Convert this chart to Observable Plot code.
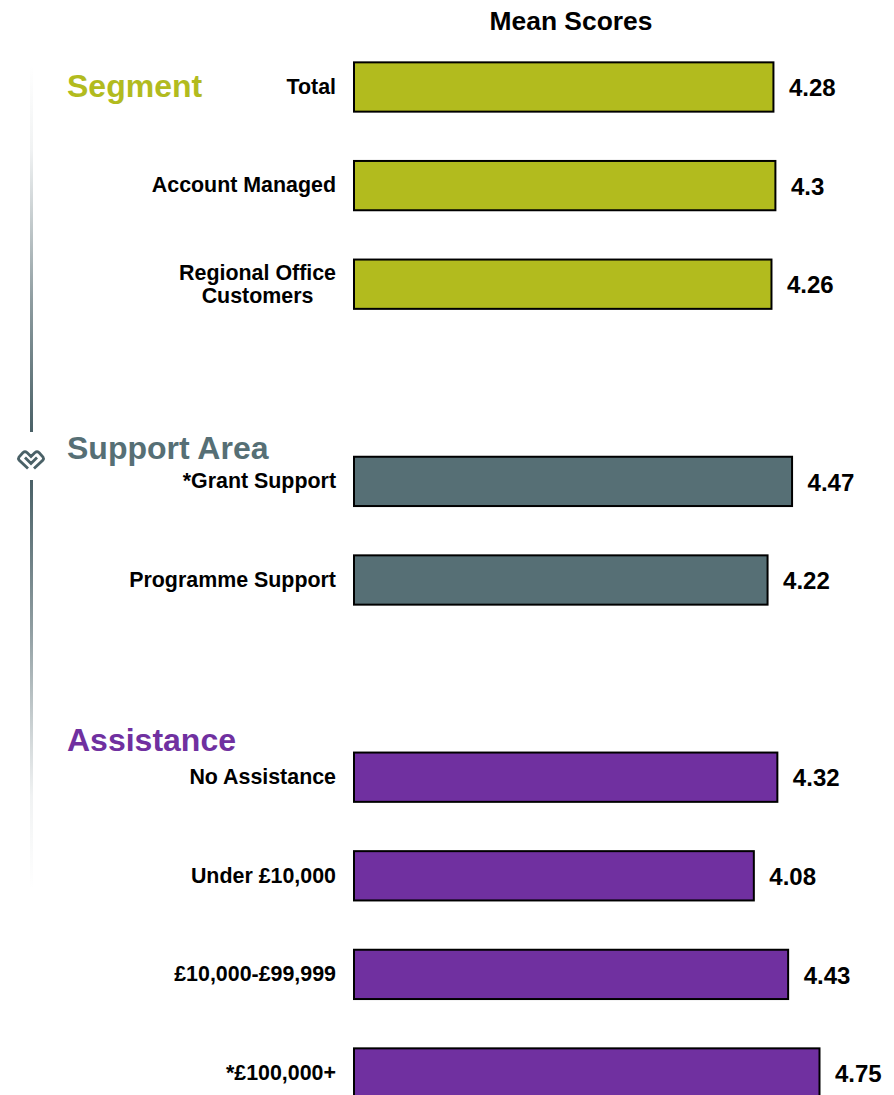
<!DOCTYPE html>
<html><head><meta charset="utf-8">
<script src="https://cdn.jsdelivr.net/npm/d3@7"></script>
<script src="https://cdn.jsdelivr.net/npm/@observablehq/plot@0.6"></script>
<style>
html,body{margin:0;padding:0;background:#fff;overflow:hidden}
#title{height:42px;width:894px;box-sizing:border-box;padding-left:248px;text-align:center;font:bold 26.4px/43px "Liberation Sans",Arial,sans-serif;color:#000}
svg{display:block}
</style></head><body>
<div id="title">Mean Scores</div>
<div id="chart"></div>
<script>
const categories = ["Total","Account Managed","Regional Office Customers","*Grant Support","Programme Support","No Assistance","Under £10,000","£10,000-£99,999","*£100,000+"];
const scores     = [4.28,4.3,4.26,4.47,4.22,4.32,4.08,4.43,4.75];
const groups     = ["Segment","Segment","Segment","Support Area","Support Area","Assistance","Assistance","Assistance","Assistance"];
const groupNames = ["Segment","Support Area","Assistance"];
const groupColors= ["#b2bb1e","#566f75","#7030a0"];
const slots      = ["Total","Account Managed","Regional Office Customers","gap1","*Grant Support","Programme Support","gap2","No Assistance","Under £10,000","£10,000-£99,999","*£100,000+"];
const headingRows= ["Total","*Grant Support","No Assistance"];
const headingLift= [1,33,37];

const rows = categories.map((c,i)=>({category:c,score:scores[i],group:groups[i]}));
const font = '"Liberation Sans",Arial,sans-serif';
const singleLine = rows.filter(d=>d.category!=="Regional Office Customers");
const labelStyle = {fontSize:21.4,fontWeight:"bold",fill:"#000"};

const chart = Plot.plot({
  width:894, height:1053, marginLeft:0, marginRight:0, marginTop:0, marginBottom:0,
  style:{fontFamily:font, background:"#fff"},
  x:{domain:[0,5], range:[354,844], axis:null},
  y:{domain:slots, range:[-28.95,1104.95], padding:0.5, axis:null, round:false},
  color:{domain:groupNames, range:groupColors},
  marks:[
    Plot.barX(rows,{x:"score",y:"category",fill:"group",stroke:"#000",strokeWidth:2}),
    Plot.text(rows,{x:"score",y:"category",text:d=>String(d.score),textAnchor:"start",dx:15,dy:1,fontSize:24,fontWeight:"bold",fill:"#000"}),
    Plot.text(singleLine,{x:0,y:"category",text:"category",textAnchor:"end",dx:-18.5,dy:-0.5,...labelStyle}),
    Plot.text(["Regional Office"],{x:0,y:()=>"Regional Office Customers",text:d=>d,textAnchor:"end",dx:-18.5,dy:-12,...labelStyle}),
    Plot.text(["Customers"],{x:0,y:()=>"Regional Office Customers",text:d=>d,textAnchor:"middle",dx:-97,dy:11,...labelStyle}),
    ...groupNames.map((name,i)=>Plot.text([name],{x:0,y:()=>headingRows[i],text:d=>d,textAnchor:"start",dx:-287.5,dy:-headingLift[i],fontSize:32,fontWeight:"bold",fill:groupColors[i]}))
  ]
});
document.getElementById("chart").appendChild(chart);

// decorative side line with its fade and the badge
const svg = d3.select(chart);
const defs = svg.append("defs");
const fade = [[0,0],[0.23,0.08],[0.37,0.25],[0.64,0.62],[1,1]];
[["fadeUp",23,390,false],["fadeDown",848,438,false]].forEach(([id,y1,y2])=>{
  const g = defs.append("linearGradient").attr("id",id).attr("gradientUnits","userSpaceOnUse")
    .attr("x1",0).attr("x2",0).attr("y1",y1).attr("y2",y2);
  fade.forEach(([o,a])=>g.append("stop").attr("offset",o).attr("stop-color","#4a6167").attr("stop-opacity",a));
});
svg.append("rect").attr("x",30).attr("width",3).attr("y",23).attr("height",367).attr("fill","url(#fadeUp)");
svg.append("rect").attr("x",30).attr("width",3).attr("y",438).attr("height",410).attr("fill","url(#fadeDown)");
svg.append("path").attr("transform","translate(31,416.5)")
  .attr("d","M-3,10 L-12,1.5 Q-13,0 -12,-1.5 L-8,-6 Q-6,-7.5 -4,-6 L0,-2 L4,-6 Q6,-7.5 8,-6 L12,-1.5 Q13,0 12,1.5 L3,10 M-6,-1 L0,5 L6,-1")
  .attr("fill","none").attr("stroke","#4a6167").attr("stroke-width",2.8);
</script>
</body></html>
